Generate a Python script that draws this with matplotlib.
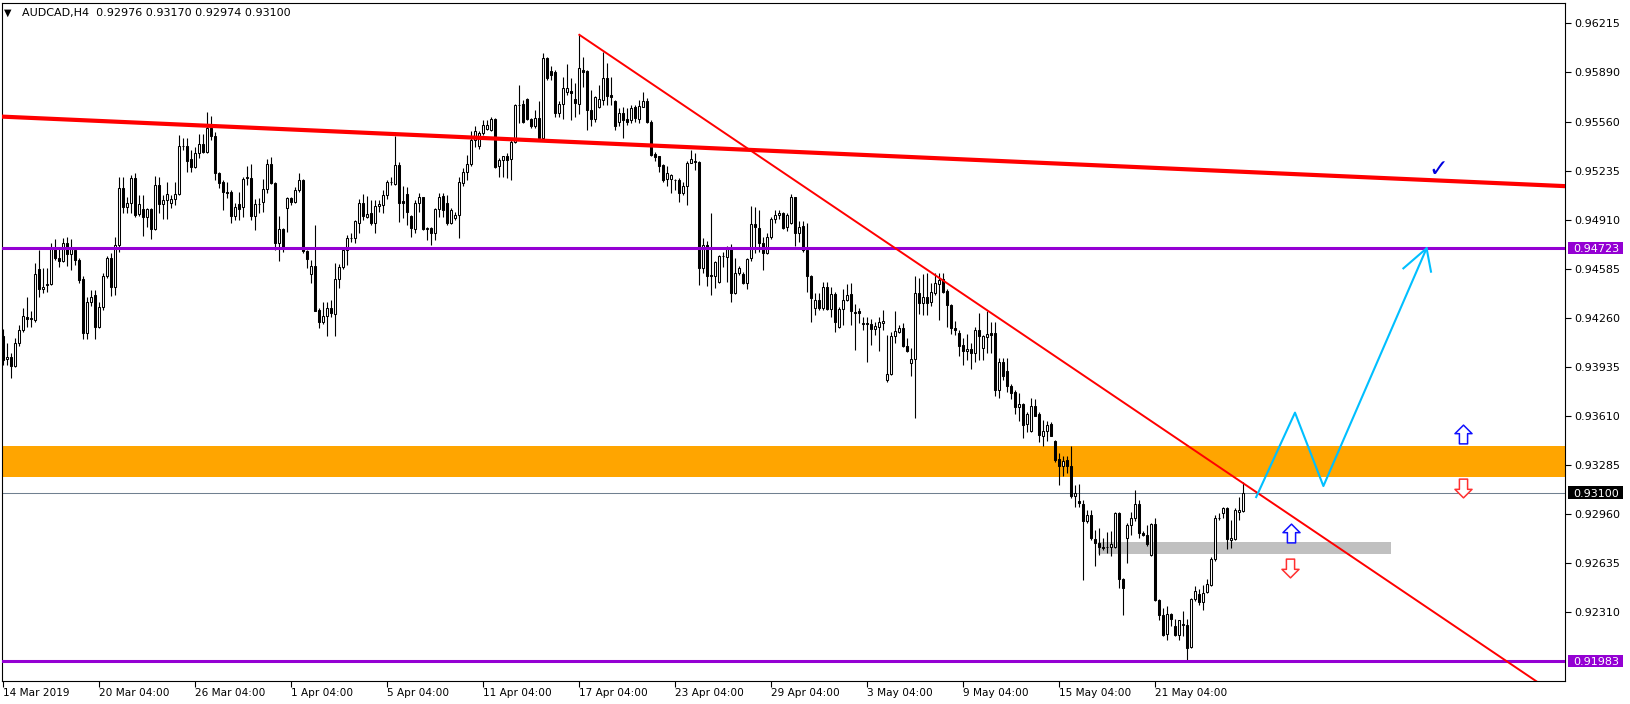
import numpy as np
import matplotlib.pyplot as plt
from matplotlib.path import Path
from matplotlib.patches import Rectangle
import matplotlib.transforms as mtransforms

plt.rcParams['font.family'] = ['DejaVu Sans']

# AUDCAD H4 bars, 14 Mar 2019 .. 24 May 2019, prices in points (1e-5)
opens = [
    94135, 93985, 93998, 93936, 94091, 94179, 94267, 94254, 94245, 94581,
    94449, 94475, 94482, 94720, 94654, 94636, 94754, 94683, 94709, 94643,
    94516, 94157, 94367, 94409, 94201, 94329, 94537, 94654, 94466, 94743,
    95118, 94992, 95023, 95185, 94948, 94979, 94930, 94979, 94851, 95140,
    95014, 95041, 95019, 95048, 95081, 95399, 95399, 95311, 95262, 95350,
    95410, 95360, 95520, 95465, 95218, 95162, 95092, 95096, 94935, 95014,
    94992, 95185, 95189, 94931, 95015, 95024, 95112, 95280, 95156, 94758,
    94847, 94986, 95052, 95030, 95107, 95174, 94703, 94551, 94604, 94312,
    94234, 94272, 94323, 94285, 94515, 94599, 94710, 94787, 94787, 94886,
    95019, 94926, 94953, 94891, 95001, 95008, 95074, 95163, 95147, 95273,
    95037, 95081, 94935, 94847, 95023, 95059, 94851, 94853, 94824, 94979,
    95068, 95023, 94891, 94919, 94942, 95152, 95223, 95280, 95435, 95400,
    95484, 95510, 95506, 95576, 95263, 95307, 95329, 95311, 95422, 95671,
    95678, 95709, 95576, 95528, 95583, 95450, 95981, 95897, 95892, 95616,
    95678, 95760, 95766, 95709, 95678, 95904, 95899, 95634, 95576, 95656,
    95705, 95848, 95738, 95700, 95561, 95616, 95576, 95572, 95656, 95576,
    95660, 95700, 95561, 95347, 95329, 95274, 95179, 95179, 95175, 95175,
    95086, 95130, 95289, 95296, 95295, 94588, 94743, 94544, 94537, 94499,
    94670, 94665, 94714, 94422, 94559, 94550, 94493, 94654, 94880, 94853,
    94754, 94687, 94793, 94913, 94944, 94953, 94860, 94891, 95059, 94824,
    94869, 94709, 94537, 94323, 94378, 94323, 94466, 94316, 94418, 94201,
    94316, 94378, 94418, 94296, 94301, 94223, 94223, 94219, 94183, 94201,
    94223, 93848, 93885, 94139, 94168, 94192, 94074, 93962, 93985, 94422,
    94356, 94400, 94361, 94422, 94484, 94515, 94440, 94345, 94190, 94157,
    94080, 94036, 94051, 94025, 94175, 94058, 94131, 94157, 94157, 93782,
    93963, 93903, 93804, 93764, 93667, 93689, 93556, 93505, 93675, 93622,
    93477, 93505, 93556, 93439, 93322, 93274, 93318, 93277, 93074, 93045,
    93025, 92908, 92952, 92793, 92764, 92742, 92738, 92738, 92738, 92963,
    92526, 92797, 92886, 92930, 93025, 92831, 92820, 92687, 92893, 92389,
    92289, 92163, 92296, 92216, 92157, 92223, 92223, 92075, 92393, 92428,
    92371, 92437, 92488, 92658, 92930, 92963, 92996, 92782, 92791, 92974,
    92976,
]
highs = [
    94183, 94091, 94024, 94124, 94212, 94323, 94400, 94301, 94621, 94709,
    94588, 94588, 94754, 94780, 94720, 94787, 94798, 94780, 94720, 94654,
    94533, 94400, 94444, 94444, 94367, 94555, 94670, 94687, 94798, 95196,
    95196, 95063, 95207, 95218, 95074, 95074, 94986, 94986, 95200, 95196,
    95074, 95162, 95074, 95162, 95472, 95450, 95450, 95372, 95395, 95480,
    95480, 95625, 95600, 95494, 95229, 95174, 95162, 95107, 95023, 95096,
    95196, 95266, 95277, 95046, 95053, 95178, 95311, 95328, 95163, 94935,
    94853, 95063, 95063, 95125, 95222, 95178, 94710, 94643, 94875, 94323,
    94367, 94367, 94374, 94621, 94617, 94721, 94809, 94820, 94908, 95046,
    95079, 95068, 95041, 95041, 95041, 95107, 95174, 95196, 95465, 95295,
    95134, 95125, 94942, 95041, 95085, 95063, 94864, 94864, 94986, 95085,
    95090, 95074, 94986, 94964, 95196, 95252, 95340, 95495, 95532, 95500,
    95572, 95572, 95590, 95583, 95318, 95335, 95351, 95450, 95678, 95804,
    95705, 95716, 95583, 95638, 95700, 96014, 95992, 95926, 95904, 95694,
    95859, 95943, 95848, 95815, 96136, 95992, 95904, 95771, 95731, 95804,
    96025, 95948, 95859, 95705, 95649, 95660, 95649, 95671, 95671, 95705,
    95760, 95716, 95568, 95362, 95333, 95280, 95263, 95214, 95179, 95185,
    95163, 95296, 95373, 95355, 95302, 94787, 94771, 94953, 94639, 94676,
    94698, 94736, 94749, 94654, 94603, 94566, 94654, 95001, 94992, 94975,
    94798, 94824, 94926, 94975, 94975, 94964, 94953, 95081, 95063, 94904,
    94904, 94891, 94544, 94422, 94422, 94499, 94499, 94466, 94427, 94329,
    94449, 94484, 94489, 94351, 94323, 94263, 94263, 94254, 94234, 94263,
    94312, 94146, 94168, 94301, 94212, 94223, 94124, 94058, 94537, 94522,
    94550, 94555, 94493, 94555, 94555, 94555, 94449, 94352, 94235, 94175,
    94124, 94153, 94091, 94197, 94290, 94146, 94301, 94228, 94228, 93992,
    93992, 93992, 93821, 93782, 93760, 93693, 93631, 93726, 93720, 93631,
    93583, 93572, 93565, 93450, 93362, 93340, 93340, 93409, 93151, 93158,
    93052, 92985, 92985, 92853, 92864, 92797, 92835, 92842, 92968, 92968,
    92530, 92897, 92968, 93118, 93052, 92842, 92886, 92901, 92930, 92393,
    92333, 92349, 92300, 92260, 92256, 92311, 92260, 92400, 92481, 92459,
    92488, 92526, 92671, 92952, 92963, 93003, 93003, 92919, 92996, 93069,
    93170,
]
lows = [
    93947, 93947, 93858, 93931, 94069, 94168, 94201, 94201, 94234, 94400,
    94422, 94427, 94477, 94643, 94599, 94632, 94603, 94577, 94610, 94493,
    94117, 94117, 94334, 94117, 94190, 94312, 94522, 94404, 94411, 94698,
    94953, 94953, 94953, 94930, 94935, 94802, 94864, 94780, 94842, 94953,
    94913, 94913, 94986, 95008, 95074, 95372, 95229, 95229, 95251, 95317,
    95350, 95350, 95440, 95174, 95118, 94975, 95052, 94886, 94908, 94908,
    94926, 95140, 94908, 94842, 94953, 94964, 95085, 95147, 94710, 94639,
    94698, 94831, 95008, 95019, 95096, 94692, 94588, 94489, 94301, 94190,
    94219, 94135, 94263, 94135, 94455, 94581, 94610, 94765, 94754, 94820,
    94908, 94919, 94875, 94820, 94964, 94953, 95046, 95140, 95140, 94897,
    94919, 94875, 94798, 94820, 94964, 94842, 94776, 94743, 94776, 94930,
    94930, 94875, 94882, 94908, 94788, 95130, 95175, 95263, 95391, 95380,
    95473, 95506, 95495, 95252, 95196, 95196, 95185, 95170, 95417, 95550,
    95550, 95568, 95517, 95517, 95435, 95439, 95837, 95837, 95594, 95594,
    95576, 95738, 95572, 95594, 95612, 95793, 95506, 95528, 95561, 95649,
    95671, 95671, 95671, 95506, 95528, 95450, 95539, 95550, 95561, 95550,
    95656, 95554, 95329, 95296, 95229, 95163, 95130, 95086, 95108, 95030,
    95075, 95008, 95285, 95241, 94477, 94555, 94471, 94411, 94455, 94489,
    94599, 94499, 94367, 94418, 94544, 94484, 94449, 94639, 94692, 94698,
    94577, 94683, 94780, 94886, 94913, 94847, 94838, 94882, 94732, 94765,
    94698, 94433, 94234, 94279, 94310, 94312, 94312, 94263, 94168, 94190,
    94212, 94373, 94212, 94047, 94223, 94179, 93969, 94080, 94146, 94042,
    94179, 93830, 93881, 94091, 94157, 94065, 94029, 93870, 93593, 94285,
    94279, 94279, 94334, 94411, 94246, 94422, 94197, 94153, 94146, 94003,
    93947, 93980, 93918, 93963, 93980, 93980, 94025, 94025, 93742, 93726,
    93848, 93764, 93720, 93622, 93572, 93461, 93499, 93499, 93605, 93432,
    93410, 93439, 93472, 93300, 93152, 93207, 93229, 93063, 93003, 93003,
    92521, 92897, 92782, 92610, 92687, 92720, 92698, 92676, 92731, 92466,
    92289, 92632, 92820, 92908, 92797, 92809, 92747, 92680, 92378, 92256,
    92146, 92124, 92212, 92146, 92124, 92146, 91978, 92068, 92378, 92355,
    92322, 92433, 92477, 92643, 92919, 92930, 92724, 92731, 92782, 92919,
    92974,
]
closes = [
    93980, 93998, 93936, 94091, 94179, 94272, 94254, 94256, 94550, 94449,
    94462, 94482, 94720, 94654, 94636, 94754, 94683, 94720, 94643, 94511,
    94157, 94367, 94396, 94201, 94329, 94537, 94654, 94466, 94743, 95118,
    94992, 95023, 95185, 94941, 95014, 94930, 94979, 94851, 95140, 95014,
    95041, 95081, 95048, 95081, 95399, 95401, 95302, 95262, 95355, 95410,
    95360, 95520, 95465, 95218, 95151, 95092, 95090, 94935, 94997, 94979,
    95178, 95196, 94931, 95015, 95013, 95112, 95280, 95151, 94758, 94847,
    94727, 95052, 95030, 95107, 95174, 94699, 94648, 94604, 94307, 94234,
    94272, 94323, 94290, 94515, 94599, 94710, 94787, 94790, 94904, 95023,
    94931, 94948, 94891, 95001, 95015, 95074, 95163, 95160, 95273, 95023,
    95023, 94964, 94853, 95023, 95059, 94847, 94853, 94824, 94979, 95063,
    94975, 94891, 94975, 94942, 95157, 95223, 95280, 95439, 95495, 95484,
    95537, 95539, 95576, 95258, 95307, 95329, 95307, 95428, 95671, 95668,
    95561, 95576, 95528, 95583, 95450, 95981, 95848, 95870, 95616, 95678,
    95782, 95786, 95753, 95687, 95915, 95892, 95634, 95576, 95722, 95709,
    95848, 95731, 95722, 95532, 95616, 95568, 95559, 95649, 95583, 95665,
    95700, 95561, 95340, 95324, 95263, 95175, 95218, 95207, 95170, 95086,
    95134, 95289, 95311, 95294, 94588, 94743, 94537, 94533, 94632, 94670,
    94668, 94714, 94422, 94559, 94588, 94493, 94648, 94880, 94860, 94754,
    94692, 94793, 94913, 94941, 94953, 94853, 94941, 95059, 94824, 94864,
    94709, 94533, 94389, 94378, 94323, 94466, 94316, 94418, 94234, 94316,
    94378, 94411, 94301, 94294, 94290, 94221, 94217, 94183, 94206, 94228,
    94239, 93885, 94139, 94172, 94192, 94069, 94036, 93985, 94422, 94356,
    94400, 94356, 94433, 94489, 94511, 94433, 94345, 94190, 94179, 94069,
    94036, 94051, 94025, 94175, 94140, 94135, 94153, 94148, 93777, 93963,
    93870, 93804, 93760, 93667, 93689, 93549, 93622, 93675, 93609, 93483,
    93505, 93549, 93477, 93318, 93274, 93307, 93274, 93074, 93096, 93030,
    92908, 92952, 92797, 92764, 92742, 92731, 92736, 92760, 92963, 92526,
    92466, 92886, 92930, 93025, 92831, 92820, 92760, 92893, 92389, 92289,
    92157, 92296, 92260, 92157, 92252, 92225, 92068, 92393, 92444, 92371,
    92433, 92495, 92658, 92930, 92932, 92996, 92791, 92797, 92981, 92981,
    93100,
]

date_ticks = [0, 24, 48, 72, 96, 120, 144, 168, 192, 216, 240, 264, 288]
date_labels = ['14 Mar 2019', '20 Mar 04:00', '26 Mar 04:00', '1 Apr 04:00',
               '5 Apr 04:00', '11 Apr 04:00', '17 Apr 04:00', '23 Apr 04:00',
               '29 Apr 04:00', '3 May 04:00', '9 May 04:00', '15 May 04:00',
               '21 May 04:00']
price_ticks = [0.96215, 0.95890, 0.95560, 0.95235, 0.94910, 0.94585, 0.94260,
               0.93935, 0.93610, 0.93285, 0.92960, 0.92635, 0.92310]

# drawn objects (bar index, price)
levels = [0.94723, 0.91983]
bid = 0.93100
orange_zone = [0.93204, 0.93409]
grey_zone = [0.92690, 0.92772]
grey_bars = [273.6, 346.8]
long_line_x = [0, 300]
long_line_y = [0.95593, 0.95239]
trend_x = [144, 248]
trend_y = [0.96136, 0.94272]
path_x = [313.2, 322.9, 330.0, 355.8]
path_y = [0.93070, 0.93630, 0.93143, 0.94720]
head_x = [350.0, 355.8, 356.9]
head_y = [0.94587, 0.94720, 0.94565]
up_x = [364.8, 321.9]
up_y = [0.93485, 0.92829]
down_x = [364.8, 321.7]
down_y = [0.93133, 0.92597]
check_x, check_y = 358.7, 0.95246

o = np.array(opens) / 1e5
h = np.array(highs) / 1e5
l = np.array(lows) / 1e5
c = np.array(closes) / 1e5
x = np.arange(len(o))

W, H = 1630, 704
fig = plt.figure(figsize=(W / 100, H / 100), dpi=100)
ax = fig.add_axes([2 / W, 23 / H, 1563 / W, 678 / H])
ax.set_xlim(-0.33, 390.4)
ax.set_ylim(0.91850, 0.96347)

# background objects
ax.axhspan(orange_zone[0], orange_zone[1], color='#FFA500', lw=0, zorder=0.5)
ax.fill_between(grey_bars, grey_zone[0], grey_zone[1], color='#C0C0C0', lw=0, zorder=0.6)
ax.axhline(bid, color='#708090', lw=0.75, zorder=0.7)

# candles
ax.vlines(x, l, h, color='black', lw=0.8, zorder=1)
up = c >= o
ax.bar(x[up], c[up] - o[up], bottom=o[up], width=0.52, color='white',
       edgecolor='black', lw=0.75, zorder=2)
ax.bar(x[~up], o[~up] - c[~up], bottom=c[~up], width=0.52, color='black',
       edgecolor='black', lw=0.75, zorder=2)

# lines on top
for p in levels:
    ax.axhline(p, color='#9400D3', lw=2.2, zorder=3)
ax.axline((long_line_x[0], long_line_y[0]), (long_line_x[1], long_line_y[1]),
          color='red', lw=3.0, zorder=3)
slope = (trend_y[1] - trend_y[0]) / (trend_x[1] - trend_x[0])
ax.plot([trend_x[0], 400], [trend_y[0], trend_y[0] + slope * (400 - trend_x[0])],
        color='red', lw=1.4, zorder=3)
ax.plot(path_x, path_y, color='#00BFFF', lw=1.5, zorder=3)
ax.plot(head_x, head_y, color='#00BFFF', lw=1.5, zorder=3)

# hollow arrows
up_verts = [(0, 0.55), (0.5, 0.05), (0.24, 0.05), (0.24, -0.55),
            (-0.24, -0.55), (-0.24, 0.05), (-0.5, 0.05), (0, 0.55)]
codes = [Path.MOVETO] + [Path.LINETO] * 6 + [Path.CLOSEPOLY]
up_marker = Path(up_verts, codes)
down_marker = Path([(vx, -vy) for vx, vy in up_verts], codes)
ax.plot(up_x, up_y, ls='none', marker=up_marker, ms=13.5, mfc='white',
        mec='#1010FF', mew=1.1, zorder=4)
ax.plot(down_x, down_y, ls='none', marker=down_marker, ms=13.5, mfc='white',
        mec='#FF3030', mew=1.1, zorder=4)
ax.text(check_x, check_y, '\u2713', color='#0000E0', fontsize=17,
        fontweight='bold', ha='center', va='center', zorder=4)

# axes styling
for s in ax.spines.values():
    s.set_linewidth(0.8)
ax.yaxis.tick_right()
ax.set_yticks(price_ticks)
ax.set_yticklabels([f'{p:.5f}' for p in price_ticks])
ax.tick_params(axis='y', length=4, width=0.8, pad=3, labelsize=8)
ax.set_xticks(date_ticks)
ax.set_xticklabels(date_labels)
for t in ax.get_xticklabels():
    t.set_ha('left')
ax.tick_params(axis='x', length=4, width=0.8, pad=1, labelsize=7.6)

# price labels on the right scale
trans = mtransforms.blended_transform_factory(fig.transFigure, ax.transData)
box_h = 0.00084
for p, col in [(levels[0], '#9400D3'), (levels[1], '#9400D3'), (bid, 'black')]:
    ax.add_patch(Rectangle((1568 / W, p - box_h / 2), 55 / W, box_h, transform=trans,
                           facecolor=col, edgecolor='none', clip_on=False, zorder=5))
    ax.text(1573 / W, p, f'{p:.5f}', transform=trans, color='white', fontsize=8,
            va='center_baseline', ha='left', clip_on=False, zorder=6)

# header
fig.text(8 / W, 1 - 13 / H, '\u25BC', fontsize=7, ha='center', va='center')
fig.text(22 / W, 1 - 13 / H, 'AUDCAD,H4  0.92976 0.93170 0.92974 0.93100',
         fontsize=8, ha='left', va='center')

fig.savefig('out.png', dpi=100)
